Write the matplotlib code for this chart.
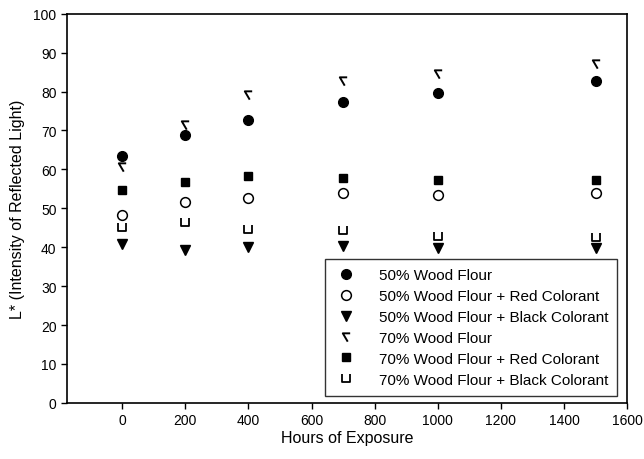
import matplotlib
matplotlib.use("Agg")
import matplotlib.pyplot as plt
from matplotlib.path import Path

plt.rcParams["font.family"] = ["Liberation Sans", "DejaVu Sans"]

# ── data ─────────────────────────────────────────────────────────────────────
hours = [0, 200, 400, 700, 1000, 1500]

wf50 = [63.5, 68.8, 72.8, 77.3, 79.5, 82.6]
wf50_red = [48.2, 51.6, 52.7, 54.0, 53.5, 54.0]
wf50_black = [40.8, 39.4, 40.0, 40.3, 39.8, 39.8]
wf70 = [60.5, 71.5, 79.0, 82.6, 84.6, 87.1]
wf70_red = [54.6, 56.7, 58.3, 57.7, 57.2, 57.2]
wf70_black = [45.2, 46.6, 44.7, 44.3, 43.0, 42.6]

labels = [
    "50% Wood Flour",
    "50% Wood Flour + Red Colorant",
    "50% Wood Flour + Black Colorant",
    "70% Wood Flour",
    "70% Wood Flour + Red Colorant",
    "70% Wood Flour + Black Colorant",
]

# odd glyphs from the original plot
hook = Path([(0.75, 0.85), (-0.75, 0.85), (0.25, -0.85)],
            [Path.MOVETO, Path.LINETO, Path.LINETO])
cup = Path([(-0.8, 0.85), (-0.8, -0.85), (0.8, -0.85), (0.8, 0.85)],
           [Path.MOVETO, Path.LINETO, Path.LINETO, Path.LINETO])

fig = plt.figure(figsize=(6.44, 4.6), dpi=100)
ax = fig.add_axes([0.104, 0.122, 0.870, 0.846])

ax.plot(hours, wf50, ls="none", marker="o", ms=7, color="black", label=labels[0])
ax.plot(hours, wf50_red, ls="none", marker="o", ms=7, mfc="white", mec="black",
        mew=1.1, label=labels[1])
ax.plot(hours, wf50_black, ls="none", marker="v", ms=7, color="black", label=labels[2])
ax.plot(hours, wf70, ls="none", marker=hook, ms=6, mfc="none", mec="black",
        mew=1.4, label=labels[3])
ax.plot(hours, wf70_red, ls="none", marker="s", ms=6, color="black", label=labels[4])
ax.plot(hours, wf70_black, ls="none", marker=cup, ms=5.5, mfc="none", mec="black",
        mew=1.3, label=labels[5])

ax.set_xlim(-175, 1600)
ax.set_ylim(0, 100)
ax.set_xticks(range(0, 1601, 200))
ax.set_yticks(range(0, 101, 10))
ax.tick_params(direction="out", length=4, width=1, labelsize=10, colors="black")
for s in ax.spines.values():
    s.set_linewidth(1.2)

ax.set_xlabel("Hours of Exposure", fontsize=11.5, labelpad=2)
ax.set_ylabel("L* (Intensity of Reflected Light)", fontsize=11.5, labelpad=6)

leg = ax.legend(loc="lower right", bbox_to_anchor=(0.982, 0.018), borderaxespad=0,
                fontsize=11, frameon=True, fancybox=False, edgecolor="black",
                labelspacing=0.45, handletextpad=1.4, borderpad=0.6,
                handlelength=1.5)
leg.get_frame().set_linewidth(1.0)

plt.savefig("out.png", dpi=100)
